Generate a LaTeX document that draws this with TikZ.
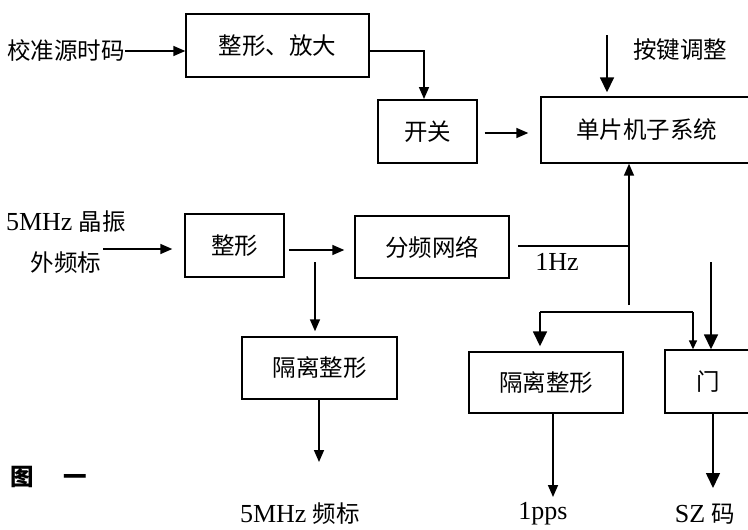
\documentclass[tikz,border=0pt]{standalone}
\usepackage{fontspec}
\setmainfont{Liberation Serif}
\newfontfamily\cjk{Noto Sans CJK SC}
\usetikzlibrary{arrows.meta}
\begin{document}
\begin{tikzpicture}[x=1pt,y=-1pt,
  box/.style={draw, line width=1.4pt, inner sep=0pt, font=\fontsize{23.5}{26}\selectfont\cjk},
  con/.style={line width=1.6pt},
  arr/.style={con, -{Triangle[length=12pt,width=10pt]}},
  barr/.style={con, -{Triangle[length=15pt,width=14pt]}},
  sarr/.style={con, -{Triangle[length=9pt,width=8pt]}},
  lbl/.style={font=\fontsize{23.5}{26}\selectfont\cjk, inner sep=0pt},
  lat/.style={font=\fontsize{26}{28}\selectfont, inner sep=0pt}]
\useasboundingbox (0,0) rectangle (748,530);
\clip (0,0) rectangle (748,530);

% nodes
\node[lbl] (src) at (66,51) {校准源时码};
\node[box, minimum width=183pt, minimum height=63pt] (b1) at (277.5,45.5) {整形、放大};
\node[box, minimum width=99pt, minimum height=63pt] (sw) at (427.5,131.5) {开关};
\node[box, minimum width=211pt, minimum height=66pt] (mcu) at (646.5,130) {单片机子系统};
\node[lbl] (key) at (680,50) {按键调整};
\node[lat] (x1) at (66,222) {5MHz {\fontsize{23.5}{26}\selectfont\cjk 晶振}};
\node[lbl] (x2) at (66,263) {外频标};
\node[box, minimum width=99pt, minimum height=63pt] (b2) at (234.5,245.5) {整形};
\node[box, minimum width=154pt, minimum height=62pt] (div) at (432,247) {分频网络};
\node[lat] (hz) at (557,262) {1Hz};
\node[box, minimum width=155pt, minimum height=62pt] (iso1) at (319.5,368) {隔离整形};
\node[box, minimum width=154pt, minimum height=61pt] (iso2) at (546,382.5) {隔离整形};
\node[box, minimum width=87pt, minimum height=63pt] (gate) at (708.5,381.5) {门};
\node[lat] (o1) at (300,514) {5MHz {\fontsize{23.5}{26}\selectfont\cjk 频标}};
\node[lat] (o2) at (543,514) {1pps};
\node[lat] (o3) at (705,514) {SZ {\fontsize{23.5}{26}\selectfont\cjk 码}};
\node[lbl, font=\fontsize{23.5}{26}\selectfont\cjk\bfseries] (fig) at (49,477) {图\hspace{30pt}一};

% coordinates for free ends
\coordinate (k1) at (607,35);
\coordinate (in1) at (103,249);
\coordinate (c2) at (289,250);
\coordinate (c3) at (315,262);
\coordinate (c4) at (518,246);
\coordinate (j1) at (629,246);
\coordinate (j2) at (629,305);
\coordinate (br1) at (540,312);
\coordinate (br2) at (693,312);
\coordinate (g1) at (711,262);
\coordinate (e1) at (319,462);
\coordinate (e2) at (553,497);
\coordinate (e3) at (713,488);

% connectors
\draw[arr] (src.east) -- (src.east -| b1.west);
\draw[arr] (b1.east |- src) -- (424,51) -- (424,99);
\draw[arr, shorten <=7pt, shorten >=12pt] (sw.east |- 0,133) -- (mcu.west |- 0,133);
\draw[barr, shorten >=4pt] (k1) -- (k1 |- mcu.north);
\draw[arr, shorten >=12pt] (in1) -- (in1 -| b2.west);
\draw[arr, shorten >=10pt] (c2) -- (c2 -| div.west);
\draw[arr, shorten >=5pt] (c3) -- (c3 |- iso1.north);
\draw[con] (c4) -- (j1);
\draw[arr] (j2) -- (j2 |- mcu.south);
\draw[con] (br1) -- (br2);
\draw[barr, shorten >=5pt] (br1) -- (br1 |- iso2.north);
\draw[sarr] (br2) -- (br2 |- gate.north);
\draw[barr] (g1) -- (g1 |- gate.north);
\draw[arr] (iso1.south -| e1) -- (e1);
\draw[arr] (iso2.south -| e2) -- (e2);
\draw[barr] (gate.south -| e3) -- (e3);
\end{tikzpicture}
\end{document}
